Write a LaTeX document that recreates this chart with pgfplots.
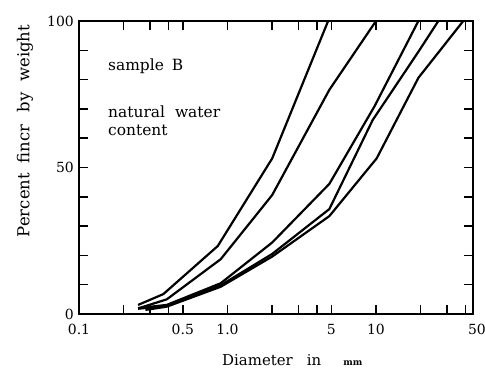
\documentclass[border=0pt]{standalone}
\usepackage{fontspec}
\setmainfont{DejaVu Serif}
\usepackage{pgfplots}
\pgfplotsset{compat=1.18}
\begin{document}
\fontsize{15}{18}\selectfont
\begin{tikzpicture}
\begin{axis}[
 scale only axis, width=394bp, height=293bp,
 xmode=log, xmin=0.1, xmax=45, ymin=0, ymax=100,
 axis line style={line width=1.5bp},
 tick style={line width=1.5bp, black},
 tick align=inside, major tick length=9bp,
 xtick={0.1,0.2,0.3,0.4,0.5,1,2,3,4,5,10,20,30,40},
 xticklabels={0.1,,,,0.5,1.0,,,,5,10,,,},
 extra x ticks={45}, extra x tick labels={50},
 extra x tick style={major tick length=0pt, xticklabel style={xshift=4bp}},
 ytick={0,10,...,100}, yticklabels={0,,,,,50,,,,,100},
 /pgf/number format/assume math mode=true,
 ticklabel style={font=\fontsize{14}{16}\selectfont},
 xticklabel style={yshift=-5bp},
 every axis plot post/.append style={black, line width=2.2bp, mark=none, line join=round},
]
\addplot coordinates {(0.25,3.1) (0.37,6.8) (0.86,23.2) (2.0,53.1) (4.76,100)};
\addplot coordinates {(0.25,1.9) (0.39,5.0) (0.9,18.7) (2.0,40.6) (4.85,76.5) (10,100)};
\addplot coordinates {(0.25,2.0) (0.39,3.1) (0.9,10.5) (2.0,24.4) (4.85,44.4) (9.8,71) (19.3,100)};
\addplot coordinates {(0.25,1.8) (0.39,2.8) (0.9,9.8) (2.0,20.5) (4.85,35.8) (9.5,66.2) (19.3,89.5) (26.3,100)};
\addplot coordinates {(0.28,1.4) (0.39,2.5) (0.9,9.3) (2.0,19.6) (4.85,33.4) (10.1,53.1) (19.3,80.6) (38.7,100)};
\end{axis}
\node[anchor=west, inner sep=0pt, font=\fontsize{15.5}{18}\selectfont] at (29bp,248bp) {sample\hspace{8bp}B};
\node[anchor=west, inner sep=0pt, font=\fontsize{15.5}{18}\selectfont] at (29bp,202bp) {natural\hspace{10bp}water};
\node[anchor=west, inner sep=0pt, font=\fontsize{15.5}{18}\selectfont] at (29bp,184bp) {content};
\node[rotate=90, inner sep=0pt, font=\fontsize{16.5}{18}\selectfont] at (-54bp,183bp) {Percent\hspace{10bp}fincr\hspace{12bp}by\hspace{11bp}weight};
\node[anchor=west, inner sep=0pt] at (143bp,-46bp) {Diameter\hspace{14bp}in\hspace{22bp}{\fontsize{9}{10}\selectfont\bfseries mm}};
\pgfresetboundingbox
\path[use as bounding box] (-79bp,-57bp) rectangle (406bp,314bp);
\end{tikzpicture}
\end{document}
